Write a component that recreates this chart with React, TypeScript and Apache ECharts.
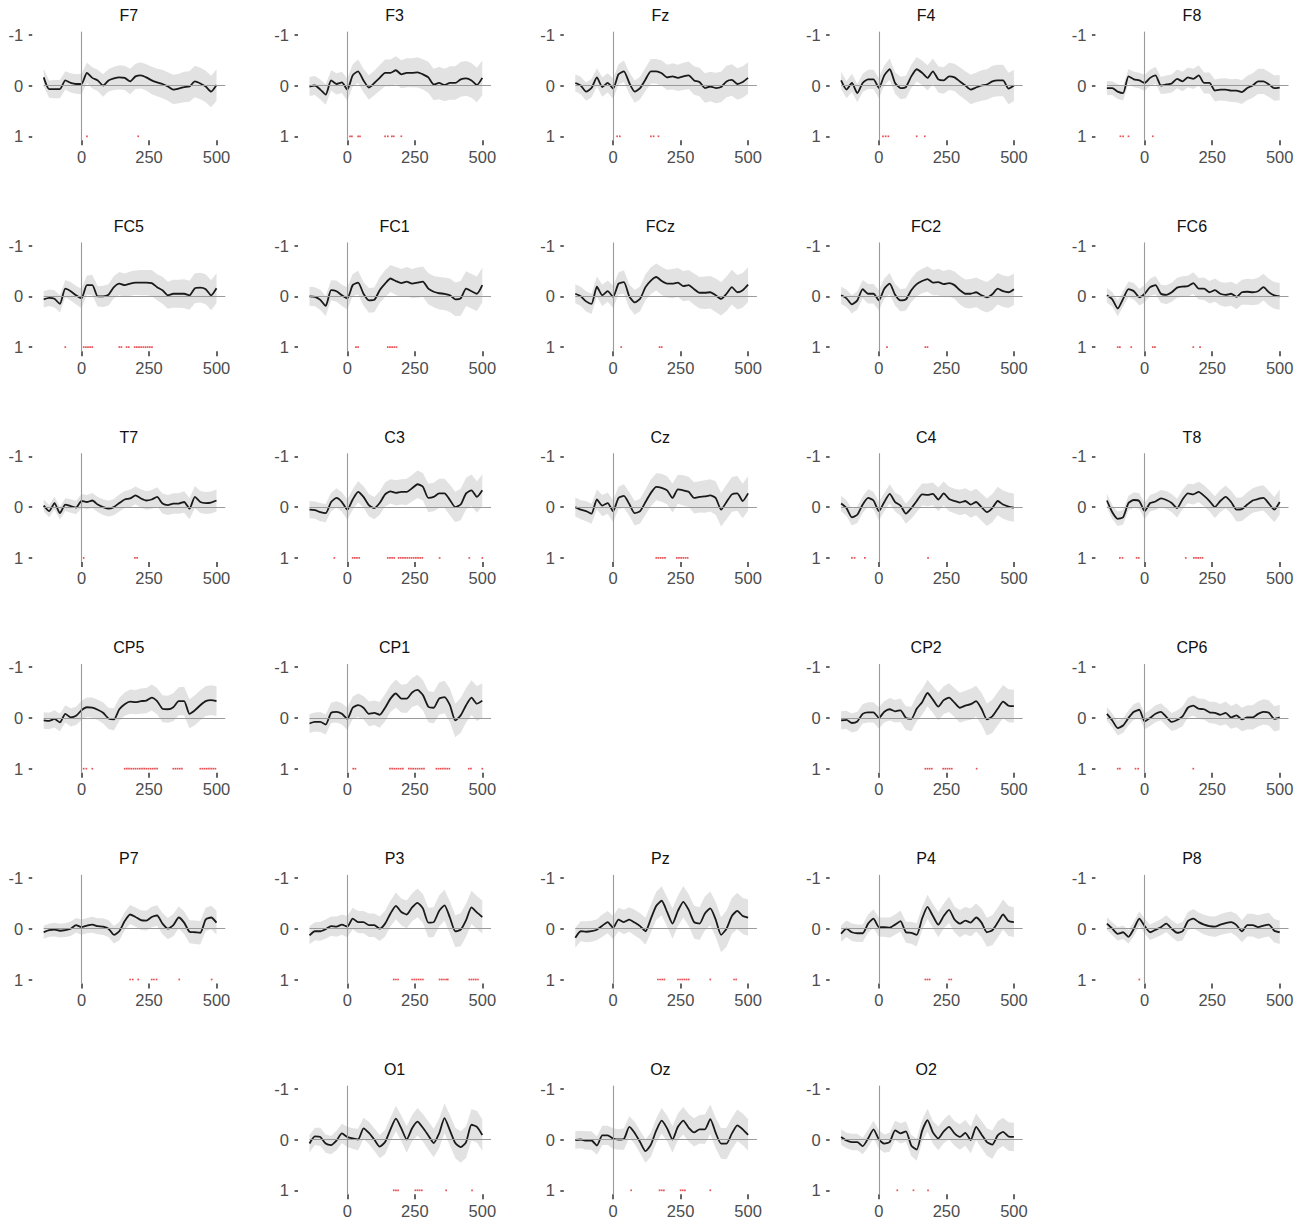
import { useEffect, useRef } from 'react';
import * as echarts from 'echarts';

// time points (ms) of the sampled waveforms
const times = [-140, -120, -100, -80, -60, -40, -20, 0, 20, 40, 60, 80, 100, 120, 140, 160, 180, 200, 220, 240, 260, 280, 300, 320, 340, 360, 380, 400, 420, 440, 460, 480, 500];

// half width of the grey band around each waveform
const ribbonHalf = [0.17, 0.17, 0.18, 0.18, 0.18, 0.19, 0.19, 0.2, 0.2, 0.21, 0.21, 0.22, 0.22, 0.23, 0.24, 0.24, 0.25, 0.25, 0.26, 0.26, 0.27, 0.27, 0.28, 0.28, 0.29, 0.29, 0.3, 0.3, 0.31, 0.31, 0.31, 0.31, 0.31];

const F7 = [-0.16, 0.07, 0.07, 0.07, -0.1, -0.05, -0.03, -0.03, -0.25, -0.15, -0.1, 0.0, -0.1, -0.14, -0.16, -0.15, -0.08, -0.18, -0.2, -0.16, -0.1, -0.06, -0.03, 0.02, 0.08, 0.06, 0.03, 0.02, -0.08, -0.04, 0.02, 0.12, -0.01];
const F3 = [0.02, 0.0, 0.08, 0.18, -0.1, -0.03, -0.06, 0.08, -0.2, -0.28, -0.1, 0.04, -0.05, -0.15, -0.25, -0.25, -0.3, -0.22, -0.25, -0.25, -0.26, -0.22, -0.16, -0.02, -0.05, -0.01, -0.05, -0.05, -0.12, -0.14, -0.1, -0.01, -0.15];
const Fz = [-0.05, 0.0, 0.12, 0.05, -0.16, 0.03, -0.05, 0.06, -0.22, -0.28, -0.05, 0.12, 0.05, -0.12, -0.28, -0.28, -0.24, -0.16, -0.18, -0.15, -0.18, -0.2, -0.1, -0.07, 0.05, 0.02, 0.05, 0.03, -0.08, -0.11, -0.03, -0.07, -0.15];
const F4 = [-0.1, 0.08, -0.05, 0.15, -0.05, -0.12, -0.12, 0.05, -0.2, -0.32, -0.05, 0.05, 0.03, -0.18, -0.32, -0.25, -0.15, -0.28, -0.12, -0.1, -0.18, -0.16, -0.08, 0.0, 0.08, 0.04, 0.0, -0.02, -0.08, -0.1, -0.1, 0.06, 0.0];
const F8 = [0.05, 0.05, 0.12, 0.15, -0.18, -0.12, -0.1, -0.05, -0.15, -0.2, 0.0, -0.02, -0.04, -0.13, -0.08, -0.16, -0.13, -0.2, -0.05, -0.05, 0.1, 0.08, 0.08, 0.1, 0.1, 0.13, 0.05, 0.0, -0.08, -0.08, -0.02, 0.05, 0.04];
const FC5 = [0.06, 0.03, 0.05, 0.15, -0.15, -0.1, -0.02, 0.04, -0.22, -0.22, 0.0, 0.0, -0.03, -0.18, -0.25, -0.22, -0.25, -0.27, -0.27, -0.27, -0.26, -0.18, -0.12, -0.02, -0.05, -0.05, -0.05, -0.02, -0.16, -0.17, -0.14, -0.02, -0.16];
const FC1 = [0.0, 0.01, 0.07, 0.19, -0.12, -0.1, -0.02, 0.04, -0.22, -0.27, -0.05, 0.08, 0.07, -0.12, -0.25, -0.35, -0.3, -0.26, -0.29, -0.25, -0.27, -0.29, -0.15, -0.09, -0.06, -0.05, -0.02, 0.06, 0.04, -0.15, -0.1, -0.05, -0.22];
const FCz = [-0.05, 0.0, 0.1, 0.15, -0.19, -0.02, -0.1, 0.01, -0.25, -0.28, 0.0, 0.12, 0.05, -0.18, -0.31, -0.38, -0.3, -0.25, -0.25, -0.27, -0.2, -0.22, -0.14, -0.07, -0.07, -0.08, -0.02, 0.05, -0.05, -0.18, -0.08, -0.12, -0.23];
const FC2 = [-0.02, 0.04, 0.16, 0.08, -0.14, -0.05, -0.05, 0.08, -0.15, -0.25, -0.03, 0.08, 0.06, -0.12, -0.24, -0.3, -0.34, -0.27, -0.28, -0.24, -0.26, -0.22, -0.12, -0.05, -0.05, -0.08, -0.02, 0.02, -0.04, -0.15, -0.1, -0.08, -0.14];
const FC6 = [-0.02, 0.06, 0.24, 0.05, -0.14, -0.1, 0.02, -0.05, -0.18, -0.22, -0.05, -0.03, -0.08, -0.17, -0.19, -0.2, -0.26, -0.15, -0.15, -0.08, -0.12, -0.05, -0.03, -0.05, 0.01, -0.08, -0.09, -0.08, -0.1, -0.18, -0.08, -0.02, 0.0];
const T7 = [-0.03, 0.08, -0.08, 0.12, -0.05, -0.02, 0.01, -0.12, -0.1, -0.13, -0.05, 0.0, 0.03, 0.0, -0.08, -0.15, -0.17, -0.23, -0.17, -0.13, -0.15, -0.2, -0.07, -0.04, -0.07, -0.07, -0.1, 0.03, -0.2, -0.1, -0.08, -0.09, -0.13];
const C3 = [0.05, 0.06, 0.1, 0.12, -0.1, -0.18, -0.1, 0.05, -0.15, -0.3, -0.2, -0.04, 0.02, -0.08, -0.25, -0.31, -0.28, -0.3, -0.3, -0.37, -0.45, -0.4, -0.18, -0.2, -0.27, -0.27, -0.14, 0.0, -0.05, -0.27, -0.33, -0.2, -0.33];
const Cz = [0.0, 0.05, 0.08, 0.13, -0.15, -0.03, -0.08, 0.08, -0.18, -0.22, -0.06, 0.12, 0.08, -0.1, -0.28, -0.4, -0.38, -0.33, -0.18, -0.35, -0.33, -0.3, -0.18, -0.2, -0.21, -0.23, -0.18, 0.05, -0.1, -0.25, -0.27, -0.12, -0.27];
const C4 = [-0.07, 0.02, 0.2, 0.15, -0.05, -0.18, -0.13, 0.08, -0.1, -0.26, -0.1, -0.03, 0.13, 0.02, -0.12, -0.25, -0.24, -0.26, -0.15, -0.27, -0.16, -0.12, -0.09, -0.12, -0.05, -0.1, 0.0, 0.1, 0.02, -0.12, -0.05, -0.01, 0.01];
const T8 = [-0.13, 0.1, 0.23, 0.2, -0.08, -0.14, -0.12, 0.08, -0.08, -0.11, -0.17, -0.14, -0.08, 0.02, -0.15, -0.27, -0.25, -0.3, -0.22, -0.12, 0.0, -0.12, -0.2, -0.1, 0.05, 0.04, -0.05, -0.13, -0.16, -0.18, -0.07, 0.05, -0.1];
const CP5 = [0.05, 0.06, 0.02, 0.09, -0.08, -0.01, -0.04, -0.15, -0.21, -0.2, -0.16, -0.1, 0.01, 0.03, -0.17, -0.27, -0.32, -0.31, -0.33, -0.34, -0.4, -0.33, -0.18, -0.17, -0.21, -0.33, -0.33, -0.08, -0.15, -0.25, -0.33, -0.35, -0.33];
const CP1 = [0.11, 0.08, 0.08, 0.13, -0.1, -0.12, -0.08, 0.02, -0.2, -0.25, -0.2, -0.08, -0.1, -0.06, -0.2, -0.38, -0.48, -0.38, -0.38, -0.5, -0.55, -0.45, -0.22, -0.2, -0.38, -0.41, -0.25, 0.05, -0.05, -0.25, -0.4, -0.28, -0.34];
const CP2 = [0.05, 0.04, 0.1, 0.07, -0.08, -0.11, -0.11, 0.0, -0.12, -0.17, -0.13, -0.15, 0.0, 0.02, -0.18, -0.31, -0.49, -0.36, -0.22, -0.35, -0.4, -0.3, -0.2, -0.24, -0.27, -0.33, -0.18, 0.03, -0.03, -0.18, -0.32, -0.24, -0.23];
const CP6 = [-0.08, 0.05, 0.2, 0.15, 0.0, -0.12, -0.16, 0.07, 0.0, -0.08, -0.12, -0.02, 0.08, 0.04, -0.03, -0.2, -0.24, -0.18, -0.17, -0.11, -0.1, -0.06, -0.1, -0.01, -0.05, 0.03, -0.01, -0.01, -0.08, -0.12, -0.1, 0.02, -0.01];
const P7 = [0.07, 0.03, 0.02, 0.04, 0.03, 0.0, -0.07, -0.03, -0.06, -0.08, -0.05, -0.04, 0.0, 0.12, 0.05, -0.15, -0.28, -0.23, -0.17, -0.16, -0.23, -0.26, -0.1, 0.0, -0.07, -0.22, -0.12, 0.06, 0.07, 0.08, -0.18, -0.22, -0.12];
const P3 = [0.13, 0.05, 0.05, 0.01, -0.05, -0.04, -0.08, -0.04, -0.2, -0.13, -0.13, -0.07, -0.07, 0.0, -0.1, -0.3, -0.45, -0.33, -0.28, -0.42, -0.51, -0.4, -0.12, -0.13, -0.35, -0.46, -0.22, 0.05, 0.02, -0.17, -0.42, -0.32, -0.23];
const Pz = [0.18, 0.05, 0.06, 0.05, 0.02, -0.06, -0.13, -0.02, -0.18, -0.13, -0.18, -0.12, -0.05, 0.05, -0.2, -0.45, -0.55, -0.33, -0.1, -0.35, -0.53, -0.37, -0.13, -0.1, -0.3, -0.4, -0.18, 0.12, 0.0, -0.25, -0.35, -0.25, -0.22];
const P4 = [0.1, 0.0, 0.07, 0.09, 0.09, -0.1, -0.2, -0.03, -0.03, -0.02, -0.08, -0.15, 0.07, 0.08, 0.12, -0.2, -0.43, -0.25, -0.08, -0.25, -0.37, -0.18, -0.1, -0.16, -0.12, -0.22, -0.12, 0.07, 0.03, -0.12, -0.28, -0.15, -0.13];
const P8 = [-0.1, 0.0, 0.1, 0.07, 0.16, 0.0, -0.2, -0.05, 0.07, 0.02, -0.03, -0.1, 0.0, 0.08, 0.05, -0.15, -0.2, -0.13, -0.08, -0.05, -0.04, -0.08, -0.11, -0.13, -0.07, 0.05, -0.07, -0.07, -0.03, -0.06, -0.08, 0.04, 0.07];
const O1 = [0.08, -0.06, -0.05, 0.08, 0.11, 0.02, -0.12, -0.05, -0.02, 0.0, -0.22, -0.13, 0.0, 0.14, 0.05, -0.2, -0.41, -0.22, 0.0, -0.22, -0.35, -0.23, -0.08, 0.07, -0.12, -0.42, -0.18, 0.07, 0.15, 0.05, -0.29, -0.25, -0.09];
const Oz = [0.01, 0.0, 0.02, 0.02, 0.12, -0.08, -0.08, -0.02, 0.0, -0.01, -0.25, -0.13, 0.05, 0.23, 0.1, -0.18, -0.37, -0.22, 0.0, -0.25, -0.37, -0.23, -0.14, -0.2, -0.2, -0.4, -0.13, 0.08, 0.08, -0.12, -0.28, -0.2, -0.09];
const O2 = [-0.05, 0.02, 0.05, 0.05, 0.13, -0.02, -0.2, 0.0, 0.08, 0.05, -0.18, -0.12, -0.16, 0.12, 0.2, -0.17, -0.38, -0.14, -0.02, -0.16, -0.25, -0.12, -0.05, -0.13, 0.01, -0.25, -0.1, 0.05, 0.1, -0.08, -0.15, -0.06, -0.05];

// significant time points (ms), drawn at y = 1
const sigF7 = [20, 210];
const sigF3 = [10, 17, 40, 47, 140, 150, 165, 172, 200];
const sigFz = [15, 25, 140, 150, 168];
const sigF4 = [15, 25, 35, 140, 170];
const sigF8 = [-90, -80, -60, 30];
const sigFC5 = [-60, 8, 16, 24, 32, 40, 140, 148, 167, 175, 197, 205, 213, 221, 229, 237, 245, 253, 261];
const sigFC1 = [32, 40, 150, 158, 166, 174, 182];
const sigFCz = [30, 172, 180];
const sigFC2 = [30, 172, 180];
const sigFC6 = [-100, -92, -50, 30, 38, 180, 205];
const sigT7 = [8, 198, 206];
const sigC3 = [-48, 20, 28, 36, 44, 150, 158, 166, 174, 190, 198, 206, 214, 222, 230, 238, 246, 254, 262, 270, 278, 342, 452, 500];
const sigCz = [160, 168, 176, 184, 192, 236, 244, 252, 260, 268, 276];
const sigC4 = [-100, -90, -52, 182];
const sigT8 = [-92, -82, -30, -22, 152, 182, 190, 198, 206, 214];
const sigCP5 = [8, 18, 40, 160, 168, 176, 184, 192, 200, 208, 216, 224, 232, 240, 248, 256, 264, 272, 280, 340, 348, 356, 364, 372, 440, 448, 456, 464, 472, 480, 488, 496];
const sigCP1 = [22, 30, 158, 166, 174, 182, 190, 198, 206, 228, 236, 244, 252, 260, 268, 276, 284, 330, 338, 346, 354, 362, 370, 378, 450, 458, 500];
const sigCP2 = [172, 180, 188, 196, 238, 246, 254, 262, 270, 362];
const sigCP6 = [-100, -92, -34, -24, 180];
const sigP7 = [180, 190, 210, 260, 268, 278, 362, 482];
const sigP3 = [172, 180, 188, 240, 248, 256, 264, 272, 280, 342, 350, 358, 366, 372, 452, 460, 468, 476, 484];
const sigPz = [166, 174, 182, 190, 240, 248, 256, 264, 272, 280, 360, 448, 456];
const sigP4 = [172, 180, 188, 260, 268];
const sigP8 = [-20];
const sigO1 = [172, 180, 188, 252, 260, 268, 276, 366, 462];
const sigOz = [67, 172, 180, 188, 250, 258, 266, 360];
const sigO2 = [68, 128, 182];

// panel order, row by row (null = empty slot)
const panelNames = [
  ['F7', 'F3', 'Fz', 'F4', 'F8'],
  ['FC5', 'FC1', 'FCz', 'FC2', 'FC6'],
  ['T7', 'C3', 'Cz', 'C4', 'T8'],
  ['CP5', 'CP1', null, 'CP2', 'CP6'],
  ['P7', 'P3', 'Pz', 'P4', 'P8'],
  [null, 'O1', 'Oz', 'O2', null],
];

const waves: Record<string, number[]> = {
  F7, F3, Fz, F4, F8, FC5, FC1, FCz, FC2, FC6, T7, C3, Cz, C4, T8,
  CP5, CP1, CP2, CP6, P7, P3, Pz, P4, P8, O1, Oz, O2,
};
const sig: Record<string, number[]> = {
  F7: sigF7, F3: sigF3, Fz: sigFz, F4: sigF4, F8: sigF8,
  FC5: sigFC5, FC1: sigFC1, FCz: sigFCz, FC2: sigFC2, FC6: sigFC6,
  T7: sigT7, C3: sigC3, Cz: sigCz, C4: sigC4, T8: sigT8,
  CP5: sigCP5, CP1: sigCP1, CP2: sigCP2, CP6: sigCP6,
  P7: sigP7, P3: sigP3, Pz: sigPz, P4: sigP4, P8: sigP8,
  O1: sigO1, Oz: sigOz, O2: sigO2,
};
// relative band width per channel
const spread: Record<string, number> = {
  F7: 1.0, F3: 1.1, Fz: 1.0, F4: 1.0, F8: 0.8,
  FC5: 0.95, FC1: 1.1, FCz: 1.1, FC2: 1.0, FC6: 0.85,
  T7: 0.7, C3: 1.0, Cz: 1.1, C4: 0.9, T8: 0.8,
  CP5: 0.95, CP1: 1.1, CP2: 1.05, CP6: 0.8,
  P7: 0.75, P3: 1.05, Pz: 1.15, P4: 0.95, P8: 0.75,
  O1: 1.0, Oz: 1.0, O2: 0.9,
};

const xTicks = [0, 250, 500];
const yTicks = [-1, 0, 1];

const X_MIN = -182.5;
const X_MAX = 532.5;
const Y_MIN = -1.06;
const Y_MAX = 1.08;
const PX_MS = 0.27;
const PX_UNIT = 50.8;
const COL_STEP = 265.8;
const ROW_STEP = 210.8;
const ZERO_X = 81.5;
const ZERO_Y = 85.5;
const FONT = '"Liberation Sans", Arial, Helvetica, sans-serif';

const hiddenLine = { show: true, onZero: false, lineStyle: { color: 'rgba(0,0,0,0)', width: 0 } };
const tickStyle = { color: '#333333', width: 1.5 };

export default function App() {
  const ref = useRef<HTMLDivElement>(null);

  useEffect(() => {
    if (!ref.current) return;
    const chart = echarts.init(ref.current, undefined, { renderer: 'svg' });

    const grids: any[] = [];
    const xAxes: any[] = [];
    const yAxes: any[] = [];
    const series: any[] = [];
    const graphics: any[] = [];

    let idx = 0;
    panelNames.forEach((row, r) => {
      row.forEach((name, c) => {
        if (!name) return;
        const vals = waves[name];
        const k = spread[name];
        const left = ZERO_X + c * COL_STEP + X_MIN * PX_MS;
        const top = ZERO_Y + r * ROW_STEP + Y_MIN * PX_UNIT;

        grids.push({
          left,
          top,
          width: (X_MAX - X_MIN) * PX_MS,
          height: (Y_MAX - Y_MIN) * PX_UNIT,
          containLabel: false,
          outerBoundsMode: 'none',
        });
        xAxes.push({
          gridIndex: idx,
          type: 'value',
          position: 'bottom',
          min: X_MIN,
          max: X_MAX,
          axisLine: hiddenLine,
          splitLine: { show: false },
          axisTick: { show: true, inside: false, customValues: xTicks, length: 5, lineStyle: tickStyle },
          axisLabel: { customValues: xTicks, margin: 8, color: '#4d4d4d', fontSize: 16.5, fontFamily: FONT },
        });
        yAxes.push({
          gridIndex: idx,
          type: 'value',
          position: 'left',
          inverse: true,
          min: Y_MIN,
          max: Y_MAX,
          axisLine: hiddenLine,
          splitLine: { show: false },
          axisTick: { show: true, inside: false, customValues: yTicks, length: 3.5, lineStyle: tickStyle },
          axisLabel: { customValues: yTicks, margin: 9, color: '#4d4d4d', fontSize: 16.5, fontFamily: FONT },
        });

        // grey band
        series.push({
          type: 'custom',
          xAxisIndex: idx,
          yAxisIndex: idx,
          silent: true,
          z: 1,
          data: [[0, 0]],
          renderItem: (_p: any, api: any) => {
            const upper = times.map((t, i) => api.coord([t, vals[i] - ribbonHalf[i] * k]));
            const lower = times.map((t, i) => api.coord([t, vals[i] + ribbonHalf[i] * k])).reverse();
            return {
              type: 'polygon',
              shape: { points: [...upper, ...lower] },
              style: { fill: '#e2e2e2' },
            };
          },
        });
        // zero lines
        series.push({
          type: 'line',
          xAxisIndex: idx,
          yAxisIndex: idx,
          z: 2,
          silent: true,
          showSymbol: false,
          lineStyle: { opacity: 0 },
          data: [[0, 0]],
          markLine: {
            silent: true,
            symbol: ['none', 'none'],
            label: { show: false },
            lineStyle: { color: '#9a9a9a', width: 1.1, type: 'solid' },
            data: [
              { xAxis: 0 },
              [{ coord: [times[0], 0] }, { coord: [X_MAX, 0] }],
            ],
          },
        });
        // waveform
        series.push({
          type: 'line',
          xAxisIndex: idx,
          yAxisIndex: idx,
          z: 3,
          silent: true,
          showSymbol: false,
          smooth: 0.2,
          lineStyle: { color: '#1a1a1a', width: 1.8 },
          data: times.map((t, i) => [t, vals[i]]),
        });
        // significance marks
        series.push({
          type: 'scatter',
          xAxisIndex: idx,
          yAxisIndex: idx,
          z: 3,
          silent: true,
          symbol: 'rect',
          symbolSize: 1.7,
          itemStyle: { color: '#e3262b' },
          data: sig[name].map((t) => [t, 1]),
        });

        graphics.push({
          type: 'text',
          x: left + ((X_MAX - X_MIN) * PX_MS) / 2,
          y: ZERO_Y + r * ROW_STEP - 70,
          silent: true,
          style: {
            text: name,
            fill: '#111',
            font: `16px ${FONT}`,
            textAlign: 'center',
            textVerticalAlign: 'middle',
            align: 'center',
            verticalAlign: 'middle',
          },
        });
        idx += 1;
      });
    });

    chart.setOption({
      animation: false,
      backgroundColor: '#ffffff',
      grid: grids,
      xAxis: xAxes,
      yAxis: yAxes,
      series,
      graphic: graphics,
    });

    return () => chart.dispose();
  }, []);

  return (
    <div
      ref={ref}
      style={{ position: 'absolute', left: 0, top: 0, width: 1305, height: 1220 }}
    />
  );
}
